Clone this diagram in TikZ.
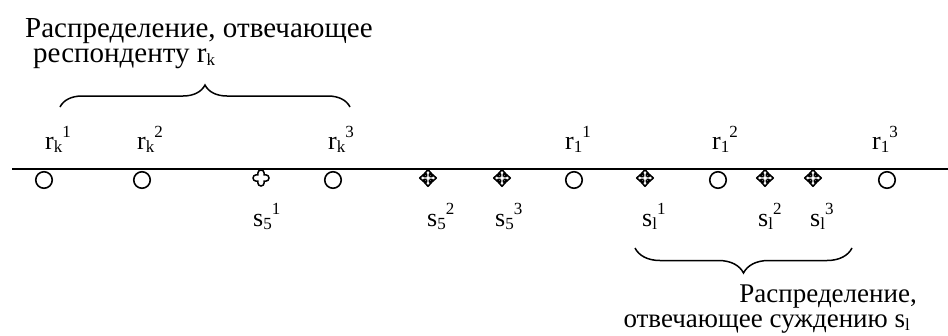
\documentclass[tikz,border=0pt]{standalone}
\usepackage{fontspec}
\setmainfont{Liberation Serif}
\usetikzlibrary{decorations.pathreplacing}
\newcommand\lo[1]{\raisebox{-.13em}{\fontsize{17}{17}\selectfont#1}}
\newcommand\hi[1]{\raisebox{.45em}{\fontsize{17}{17}\selectfont#1}}
\tikzset{rdot/.style={draw,circle,line width=1.6pt,minimum size=16.5pt,inner sep=0pt},
lbl/.style={anchor=base west,inner sep=0pt,font=\fontsize{26}{26}\selectfont},
txt/.style={inner sep=0pt,font=\fontsize{#1}{25}\selectfont},
brc/.style={decorate,decoration={brace,amplitude=#1},line width=1.5pt},
clover/.pic={\draw[line width=1.5pt](3.2,3.2)--(3.2,4.8)arc[start angle=0,end angle=180,radius=3.2]--(-3.2,3.2)--(-4.8,3.2)arc[start angle=90,end angle=270,radius=3.2]--(-3.2,-3.2)--(-3.2,-4.8)arc[start angle=180,end angle=360,radius=3.2]--(3.2,-3.2)--(4.8,-3.2)arc[start angle=-90,end angle=90,radius=3.2]--cycle;},
arrx/.pic={\foreach\a in{0,90,180,270}\draw[rotate=\a,line width=1.6pt,line join=round](1.5,1.5)--(1.5,4)--(3.8,4)--(0,8.3)--(-3.8,4)--(-1.5,4)--(-1.5,1.5);}}
\begin{document}
\begin{tikzpicture}[x=1pt,y=-1pt]
\useasboundingbox(0,0)rectangle(948,335);
\coordinate(L)at(12,169);\coordinate(R)at(948,169);\draw[line width=2.2pt](L)--(R);
\node[rdot](rk1)at(44,180){};\node[rdot](rk2)at(142,180){};\node[rdot](rk3)at(333,180){};
\node[rdot](r11)at(574,180){};\node[rdot](r12)at(718,180){};\node[rdot](r13)at(887,180){};
\coordinate(s51)at(261,178);\coordinate(s52)at(428,178);\coordinate(s53)at(502,178);
\coordinate(sl1)at(645,178);\coordinate(sl2)at(765,178);\coordinate(sl3)at(813,178);
\pic at(s51){clover};\foreach\p in{s52,s53,sl1,sl2,sl3}\pic at(\p){arrx};
\node[lbl](trk1)at(45,149){r\lo{k}\hi{1}};\node[lbl](trk2)at(137,149){r\lo{k}\hi{2}};\node[lbl](trk3)at(328,149){r\lo{k}\hi{3}};
\node[lbl](tr11)at(565,149){r\lo{1}\hi{1}};\node[lbl](tr12)at(712,149){r\lo{1}\hi{2}};\node[lbl](tr13)at(872,149){r\lo{1}\hi{3}};
\node[lbl](ts51)at(253,226){s\lo{5}\hi{1}};\node[lbl](ts52)at(427,226){s\lo{5}\hi{2}};\node[lbl](ts53)at(495,226){s\lo{5}\hi{3}};
\node[lbl](tsl1)at(642,226){s\lo{l}\hi{1}};\node[lbl](tsl2)at(758,226){s\lo{l}\hi{2}};\node[lbl](tsl3)at(810,226){s\lo{l}\hi{3}};
\coordinate(ba)at(60,107);\coordinate(bb)at(350,107);\draw[brc=22pt](ba)--(bb);
\coordinate(bc)at(852,248);\coordinate(bd)at(635,248);\draw[brc=25pt](bc)--(bd);
\node[txt=29,align=left,anchor=base west](top)at(25,62){Распределение, отвечающее\\\hspace*{8pt}респонденту r\lo{k}};
\node[txt=27,align=right,anchor=base east](bot)at(917,327){Распределение,\\отвечающее суждению s\lo{l}\hspace*{7pt}};
\end{tikzpicture}
\end{document}
